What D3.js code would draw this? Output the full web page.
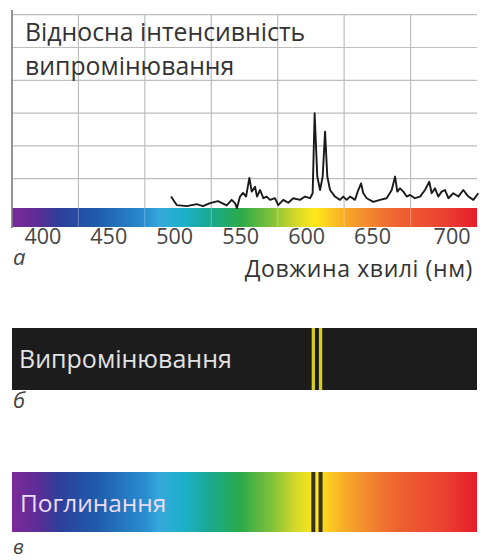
<!DOCTYPE html>
<html>
<head>
<meta charset="utf-8">
<script src="https://cdn.jsdelivr.net/npm/d3@7"></script>
<style>
  body { margin: 0; background: #fff; }
  text { font-family: "Open Sans", "Noto Sans", sans-serif; }
</style>
</head>
<body>
<div id="chart"></div>
<script>
// spectrum trace (wavelength nm, relative intensity)
const wavelengths = [497.6, 501.9, 509.5, 517.1, 521.8, 527.2, 533.2, 539.8, 543.6, 546.1, 547.6, 549.9, 552.2, 554.5, 557, 558.8, 561.3, 562.8, 565.1, 567.6, 570.1, 572.7, 576.4, 578.9, 582.7, 586.5, 590.3, 595.4, 599.2, 603, 605, 606.5, 608.5, 610.6, 612.6, 614.4, 616.1, 618.2, 621.9, 625.7, 628.2, 630.8, 633.3, 637.1, 639.6, 641.7, 643.4, 646, 650.8, 655, 659.2, 662.4, 664.5, 665.9, 667.6, 669.7, 671.8, 673.9, 677, 680.2, 683.3, 686, 687.5, 689.6, 691.7, 693.8, 695.9, 698, 701.1, 704.3, 707.4, 710.6, 713.7, 716.8];
const intensity = [0.44, 0.18, 0.15, 0.21, 0.15, 0.24, 0.30, 0.17, 0.34, 0.24, 0.09, 0.44, 0.55, 0.44, 1.01, 0.59, 0.74, 0.44, 0.64, 0.39, 0.44, 0.34, 0.39, 0.18, 0.34, 0.25, 0.39, 0.34, 0.44, 0.39, 0.54, 2.98, 1.05, 0.64, 1.05, 2.42, 1.05, 0.64, 0.44, 0.34, 0.44, 0.34, 0.44, 0.34, 0.64, 0.84, 0.54, 0.39, 0.28, 0.34, 0.39, 0.64, 1.05, 0.59, 0.69, 0.59, 0.44, 0.49, 0.39, 0.44, 0.64, 0.89, 0.54, 0.69, 0.44, 0.59, 0.64, 0.39, 0.54, 0.44, 0.64, 0.44, 0.34, 0.54];

const tickNm = [400, 450, 500, 550, 600, 650, 700];
const gridLevels = [1, 2, 3, 4, 5, 6];
const gridColumns = [1, 2, 3, 4, 5, 6];

// bright lines (emission / absorption), nm
const lineNm = [605.5, 611];

// colour stops of the visible spectrum
const stopNm = [377, 398, 413, 444, 479, 489, 508, 527, 550, 573, 592, 607, 630, 655, 668, 696, 716];
const stopColors = ['#7b2a9a', '#5a2d96', '#2d3f9a', '#1f5fae', '#2a8fd0', '#35a9dc', '#1ab0c8', '#1aa890', '#2aaa4a', '#7cc03a', '#d4d82a', '#ffe81a', '#f8a928', '#f07830', '#ee6030', '#ea4030', '#e81c2c'];

const width = 481;
const height = 560;
const left = 12;
const right = 477;

const svg = d3.select('#chart').append('svg').attr('width', width).attr('height', height);

// the book's wavelength axis is not quite linear, so use a piecewise scale
const x = d3.scaleLinear().domain([377, 650, 716]).range([left, 372, right]);
const y = d3.scaleLinear().domain([0, 6]).range([211, 14.2]);
const gridX = d3.scaleLinear().domain([0, 7]).range([left, right]);

const grad = svg.append('defs').append('linearGradient')
  .attr('id', 'spectrum')
  .attr('gradientUnits', 'userSpaceOnUse')
  .attr('x1', x(stopNm[0]))
  .attr('x2', x(stopNm[stopNm.length - 1]));
grad.selectAll('stop')
  .data(stopNm)
  .enter()
  .append('stop')
  .attr('offset', (d) => (x(d) - left) / (right - left))
  .attr('stop-color', (d, i) => stopColors[i]);

// --- panel a ---
const chart = svg.append('g');

const yGridlines = d3.axisLeft(y).tickValues(gridLevels).tickSize(-(right - left)).tickFormat('');
chart.append('g').attr('transform', `translate(${left},0)`).call(yGridlines)
  .call((g) => g.select('.domain').remove())
  .call((g) => g.selectAll('line').attr('stroke', '#bdbdbd').attr('stroke-width', 1.2));

chart.selectAll('.vgrid')
  .data(gridColumns)
  .enter()
  .append('line')
  .classed('vgrid', true)
  .attr('x1', (d) => gridX(d))
  .attr('x2', (d) => gridX(d))
  .attr('y1', y(6))
  .attr('y2', 227)
  .attr('stroke', '#bdbdbd')
  .attr('stroke-width', 1.2);

chart.append('rect')
  .attr('x', left)
  .attr('y', 208)
  .attr('width', right - left)
  .attr('height', 19)
  .attr('fill', 'url(#spectrum)');

chart.selectAll('.vgrid-bar')
  .data(gridColumns)
  .enter()
  .append('line')
  .attr('x1', (d) => gridX(d))
  .attr('x2', (d) => gridX(d))
  .attr('y1', 208)
  .attr('y2', 227)
  .attr('stroke', '#fff')
  .attr('stroke-opacity', 0.25)
  .attr('stroke-width', 1.2);

chart.append('line')
  .attr('x1', left)
  .attr('x2', left)
  .attr('y1', 10)
  .attr('y2', 228)
  .attr('stroke', '#7a7a7a')
  .attr('stroke-width', 1.6);

const line = d3.line()
  .x((d, i) => x(wavelengths[i]))
  .y((d) => y(d));

chart.append('path')
  .datum(intensity)
  .attr('d', line)
  .attr('fill', 'none')
  .attr('stroke', '#1a1a1a')
  .attr('stroke-width', 1.9)
  .attr('stroke-linejoin', 'round');

chart.append('text')
  .attr('x', 25)
  .attr('y', 41)
  .attr('font-size', 24.8)
  .attr('fill', '#333')
  .text('Відносна інтенсивність');
chart.append('text')
  .attr('x', 25)
  .attr('y', 75)
  .attr('font-size', 24.8)
  .attr('fill', '#333')
  .text('випромінювання');

const xAxis = d3.axisBottom(x).tickValues(tickNm).tickSize(0).tickPadding(0);
chart.append('g')
  .attr('transform', 'translate(0,244)')
  .call(xAxis)
  .call((g) => g.select('.domain').remove())
  .call((g) => g.selectAll('text')
    .attr('y', 0)
    .attr('dy', 0)
    .attr('font-size', 21.5)
    .attr('fill', '#444')
    .style('font-family', '"Open Sans", sans-serif'));

chart.append('text')
  .attr('x', 13)
  .attr('y', 265)
  .attr('font-size', 22)
  .attr('font-style', 'italic')
  .attr('fill', '#444')
  .text('а');
chart.append('text')
  .attr('x', 473)
  .attr('y', 277)
  .attr('text-anchor', 'end')
  .attr('font-size', 23)
  .attr('letter-spacing', 0.6)
  .attr('fill', '#333')
  .text('Довжина хвилі (нм)');

// --- panel б: emission ---
const emit = svg.append('g');
emit.append('rect')
  .attr('x', left)
  .attr('y', 328)
  .attr('width', right - left)
  .attr('height', 62)
  .attr('fill', '#1c1c1c');
emit.selectAll('.eline')
  .data(lineNm)
  .enter()
  .append('line')
  .attr('x1', (d) => x(d))
  .attr('x2', (d) => x(d))
  .attr('y1', 328)
  .attr('y2', 390)
  .attr('stroke', '#d6cf22')
  .attr('stroke-width', 3.3);
emit.append('text')
  .attr('x', 19)
  .attr('y', 368)
  .attr('font-size', 25)
  .attr('fill', '#e2e2e2')
  .text('Випромінювання');
emit.append('text')
  .attr('x', 13)
  .attr('y', 408)
  .attr('font-size', 22)
  .attr('font-style', 'italic')
  .attr('fill', '#444')
  .text('б');

// --- panel в: absorption ---
const absorb = svg.append('g');
absorb.append('rect')
  .attr('x', left)
  .attr('y', 472)
  .attr('width', right - left)
  .attr('height', 60)
  .attr('fill', 'url(#spectrum)');
absorb.selectAll('.aline')
  .data(lineNm)
  .enter()
  .append('line')
  .attr('x1', (d) => x(d))
  .attr('x2', (d) => x(d))
  .attr('y1', 472)
  .attr('y2', 532)
  .attr('stroke', '#3a3220')
  .attr('stroke-width', 4);
absorb.append('text')
  .attr('x', 20)
  .attr('y', 512)
  .attr('font-size', 24.5)
  .attr('fill', '#ecdcf4')
  .text('Поглинання');
absorb.append('text')
  .attr('x', 13)
  .attr('y', 554)
  .attr('font-size', 20)
  .attr('font-style', 'italic')
  .attr('fill', '#444')
  .text('в');
</script>
</body>
</html>
